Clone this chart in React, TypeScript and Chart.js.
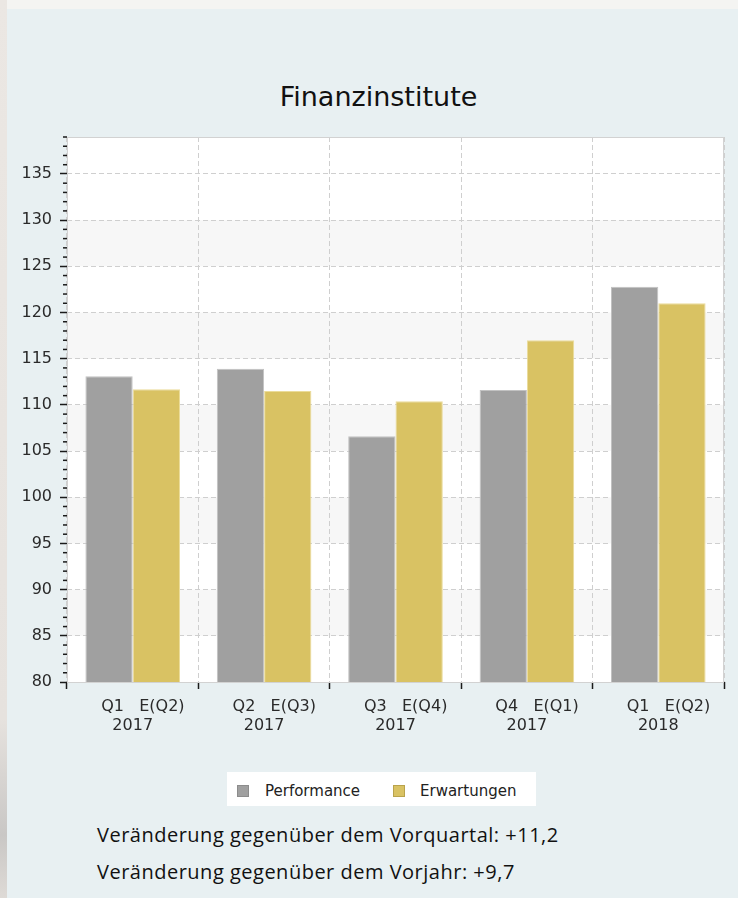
import React, { useEffect, useRef } from "react";
import { Chart, registerables } from "chart.js";

Chart.register(...registerables);

const chartTitle = "Finanzinstitute";
const categories: string[][] = [
  ["    Q1   E(Q2)", "2017"],
  ["    Q2   E(Q3)", "2017"],
  ["    Q3   E(Q4)", "2017"],
  ["    Q4   E(Q1)", "2017"],
  ["    Q1   E(Q2)", "2018"],
];
const seriesNames = ["Performance", "Erwartungen"];
const performance = [113.1, 113.9, 106.6, 111.6, 122.8];
const erwartungen = [111.7, 111.5, 110.4, 117.0, 121.0];
const yMin = 80;
const yMax = 139;
const yMajorStep = 5;
const footerLines = [
  "Veränderung gegenüber dem Vorquartal: +11,2",
  "Veränderung gegenüber dem Vorjahr: +9,7",
];

const GRAY = "#a0a0a0";
const YELLOW = "#d9c263";
const FONT = "'DejaVu Sans', sans-serif";

const plotDecor = {
  id: "plotDecor",
  beforeDraw(chart: any) {
    const { ctx, chartArea } = chart;
    const y = chart.scales.y;
    ctx.save();
    ctx.fillStyle = "#ffffff";
    ctx.fillRect(chartArea.left, chartArea.top, chartArea.right - chartArea.left, chartArea.bottom - chartArea.top);
    ctx.fillStyle = "#f7f7f7";
    for (let v = yMin + yMajorStep; v + yMajorStep <= yMax; v += 2 * yMajorStep) {
      const top = y.getPixelForValue(v + yMajorStep);
      const bot = y.getPixelForValue(v);
      ctx.fillRect(chartArea.left, top, chartArea.right - chartArea.left, bot - top);
    }
    ctx.restore();
  },
  afterDatasetsDraw(chart: any) {
    const { ctx, chartArea } = chart;
    ctx.save();
    ctx.strokeStyle = "#d2d2d2";
    ctx.lineWidth = 1;
    ctx.strokeRect(
      Math.round(chartArea.left) + 0.5,
      Math.round(chartArea.top) + 0.5,
      Math.round(chartArea.right - chartArea.left) - 1,
      Math.round(chartArea.bottom - chartArea.top)
    );
    ctx.restore();
  },
  afterDraw(chart: any) {
    const { ctx, chartArea } = chart;
    const y = chart.scales.y;
    ctx.save();
    ctx.strokeStyle = "#1a1a1a";
    ctx.lineWidth = 1.5;
    const x0 = Math.round(chartArea.left);
    for (let v = yMin; v <= yMax; v += 1) {
      if (v % yMajorStep === 0) continue;
      const py = y.getPixelForValue(v);
      ctx.beginPath();
      ctx.moveTo(x0 - 4, py);
      ctx.lineTo(x0, py);
      ctx.stroke();
    }
    ctx.restore();
  },
};

function BarChart() {
  const ref = useRef<HTMLCanvasElement | null>(null);
  useEffect(() => {
    if (!ref.current) return;
    const chart = new Chart(ref.current, {
      type: "bar",
      data: {
        labels: categories,
        datasets: [
          {
            label: seriesNames[0],
            data: performance,
            backgroundColor: GRAY,
            borderColor: "#c2c2c2",
            borderWidth: 1,
            categoryPercentage: 0.72,
            barPercentage: 1.0,
          },
          {
            label: seriesNames[1],
            data: erwartungen,
            backgroundColor: YELLOW,
            borderColor: "#ebdc9a",
            borderWidth: 1,
            categoryPercentage: 0.72,
            barPercentage: 1.0,
          },
        ],
      },
      options: {
        responsive: false,
        animation: false,
        devicePixelRatio: 1,
        layout: { padding: { top: 137, left: 8, right: 14, bottom: 0 } },
        plugins: {
          legend: { display: false },
          tooltip: { enabled: false },
          title: { display: false },
        },
        scales: {
          x: {
            offset: true,
            grid: {
              offset: true,
              color: "#cfcfcf",
              lineWidth: 1,
              drawTicks: true,
              tickLength: 7,
              tickColor: "#1a1a1a",
              tickWidth: 1.5,
            },
            border: { display: false, dash: [5, 3] },
            ticks: {
              color: "#2a2a2a",
              font: { family: FONT, size: 16, lineHeight: 1.2 },
              padding: 8,
              maxRotation: 0,
              autoSkip: false,
            },
            afterFit: (scale: any) => {
              scale.height = 78;
            },
          },
          y: {
            min: yMin,
            max: yMax,
            grid: {
              color: (c: any) => (c.tick && c.tick.value % yMajorStep === 0 ? "#cfcfcf" : "rgba(0,0,0,0)"),
              tickColor: (c: any) => (c.tick && c.tick.value % yMajorStep === 0 ? "#1a1a1a" : "rgba(0,0,0,0)"),
              lineWidth: 1,
              tickWidth: 1.5,
              tickLength: 7,
            },
            border: { display: false, dash: [5, 3] },
            ticks: {
              stepSize: 1,
              autoSkip: false,
              color: "#2a2a2a",
              font: { family: FONT, size: 16 },
              padding: 8,
              callback: (v: any) => (Number(v) % yMajorStep === 0 ? String(v) : ""),
            },
            afterFit: (scale: any) => {
              scale.width = 59;
            },
          },
        },
      },
      plugins: [plotDecor],
    });
    return () => chart.destroy();
  }, []);
  return <canvas ref={ref} width={738} height={760} style={{ position: "absolute", left: 0, top: 0 }} />;
}

export default function App() {
  const legendItems = [
    { name: seriesNames[0], color: GRAY, border: "#8c8c8c", sq: 237, tx: 265 },
    { name: seriesNames[1], color: YELLOW, border: "#b9a34c", sq: 393, tx: 420 },
  ];
  return (
    <div style={{ position: "absolute", left: 0, top: 0, width: 738, height: 898, background: "#f4f4f2", overflow: "hidden" }}>
      <div
        style={{
          position: "absolute",
          left: 0,
          top: 0,
          width: 7,
          height: 898,
          background: "linear-gradient(to bottom, #ebe7e3 0%, #e6e2de 80%, #c9c7c5 93%, #dedad6 100%)",
        }}
      />
      <div style={{ position: "absolute", left: 7, top: 9, width: 731, height: 889, background: "#e8f0f2" }} />
      <div
        style={{
          position: "absolute",
          left: 0,
          top: 80.5,
          width: 757,
          textAlign: "center",
          fontFamily: FONT,
          fontSize: 27,
          lineHeight: "normal",
          color: "#111111",
          whiteSpace: "nowrap",
        }}
      >
        {chartTitle}
      </div>
      <BarChart />
      <div style={{ position: "absolute", left: 227, top: 772, width: 309, height: 34, background: "#ffffff" }} />
      {legendItems.map((it) => (
        <React.Fragment key={it.name}>
          <div
            style={{
              position: "absolute",
              left: it.sq,
              top: 785,
              width: 10,
              height: 10,
              background: it.color,
              border: `1px solid ${it.border}`,
            }}
          />
          <div
            style={{
              position: "absolute",
              left: it.tx,
              top: 782,
              fontFamily: FONT,
              fontSize: 15,
              lineHeight: "normal",
              color: "#222222",
              whiteSpace: "nowrap",
            }}
          >
            {it.name}
          </div>
        </React.Fragment>
      ))}
      {footerLines.map((t, i) => (
        <div
          key={i}
          style={{
            position: "absolute",
            left: 97,
            top: 821 + i * 37.4,
            fontFamily: "'Open Sans', sans-serif",
            fontSize: 20,
            letterSpacing: "0.5px",
            lineHeight: "normal",
            color: "#111111",
            whiteSpace: "nowrap",
          }}
        >
          {t}
        </div>
      ))}
    </div>
  );
}
